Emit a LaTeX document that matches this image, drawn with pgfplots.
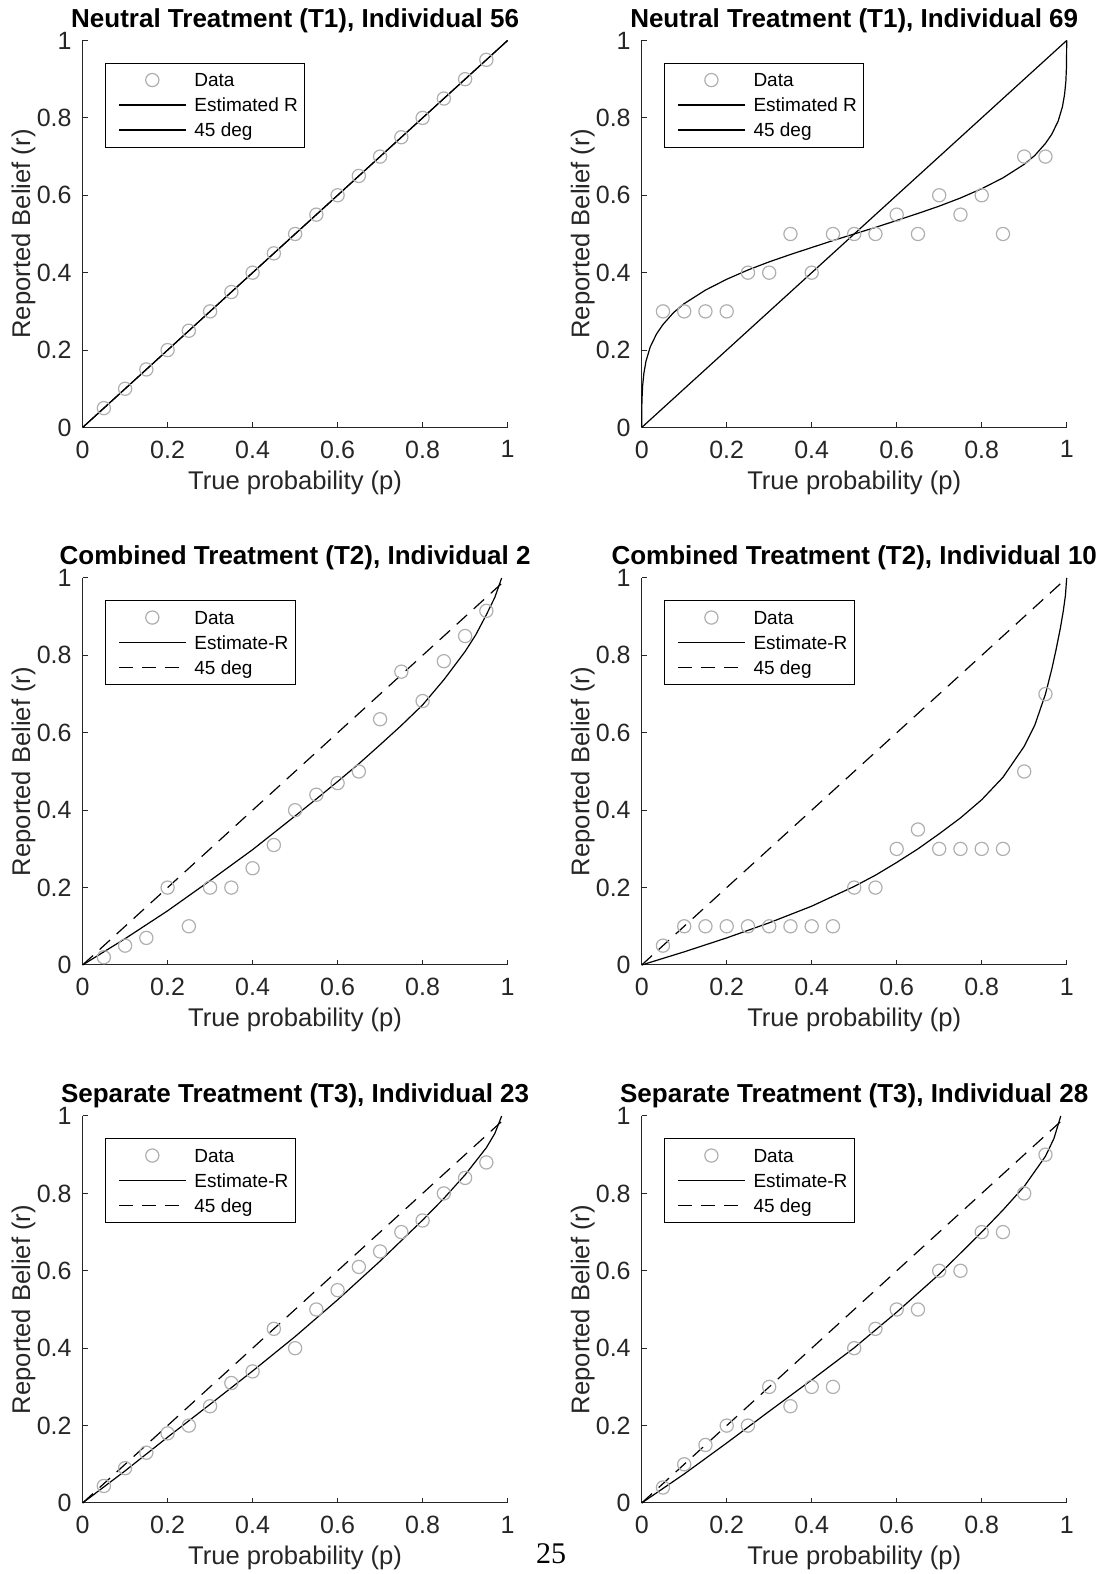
\documentclass[border=0pt]{standalone}
\usepackage{fontspec}
\setmainfont{Liberation Sans}
\newfontfamily\pagefont{Liberation Serif}
\usepackage{pgfplots}
\pgfplotsset{compat=1.18}

\definecolor{axgray}{RGB}{38,38,38}
\definecolor{ptgray}{RGB}{175,175,175}

\pgfplotsset{
  legimg/.style={legend image code/.code={%
      \path (0pt,0pt);
      \draw[mark repeat=2,mark phase=2,##1] plot coordinates {(3.5pt,0pt) (20.25pt,0pt) (37pt,0pt)};}},
  datamk/.style={only marks, mark=o, mark size=3.3pt, draw=ptgray,
    mark options={draw=ptgray, line width=0.6pt}, legimg},
  fitline/.style={black, line width=0.6pt, no marks, legimg},
  diagline/.style={black, line width=0.6pt, no marks, legimg},
  dashline/.style={black, line width=0.6pt, no marks, dash pattern=on 7pt off 4.5pt, legimg},
  belief/.style={
    scale only axis, width=212.5pt, height=193.5pt,
    anchor=south west,
    xmin=0, xmax=1, ymin=0, ymax=1,
    clip=false,
    axis x line*=bottom, axis y line*=left,
    axis line style={-, draw=axgray, line width=0.5pt},
    tick align=inside, major tick length=2.6pt,
    tick style={draw=axgray, line width=0.5pt},
    xtick={0,0.2,0.4,0.6,0.8,1}, ytick={0,0.2,0.4,0.6,0.8,1},
    /pgf/number format/assume math mode=true,
    tick label style={font=\fontsize{12.5}{14}\selectfont, text=axgray},
    xticklabel style={yshift=-3pt},
    yticklabel style={xshift=-2pt},
    label style={font=\fontsize{12.8}{15}\selectfont, text=axgray},
    xlabel={True probability (p)},
    ylabel={Reported Belief (r)},
    xlabel style={at={([yshift=-27.6pt]axis description cs:0.5,0)}, anchor=center},
    ylabel style={at={([xshift=-29.5pt]axis description cs:0,0.5)}, anchor=center},
    every axis title shift=0pt,
    title style={at={([yshift=10pt]axis description cs:0.5,1)}, anchor=center,
      font=\bfseries\fontsize{13}{15}\selectfont, text=black},
    legend cell align=left,
    legend style={at={(0.052,0.943)}, anchor=north west, draw=black, line width=0.5pt,
      fill=white, font=\fontsize{9.5}{11}\selectfont, text=black,
      inner xsep=3pt, inner ysep=2.25pt, column sep=3.5pt, row sep=0pt,
      nodes={inner xsep=0.5pt, inner ysep=0pt, text height=9.7pt, text depth=2.8pt}},
  }
}

\begin{document}
\begin{tikzpicture}
\path[use as bounding box] (0pt,0pt) rectangle (549.5pt,787pt);

% ---- Neutral, 56
\begin{axis}[belief, at={(41.3pt,573.25pt)}, title={Neutral Treatment (T1), Individual 56}]
\addplot[datamk] coordinates {(0.05,0.05) (0.10,0.10) (0.15,0.15) (0.20,0.20) (0.25,0.25)
  (0.30,0.30) (0.35,0.35) (0.40,0.40) (0.45,0.45) (0.50,0.50) (0.55,0.55) (0.60,0.60)
  (0.65,0.65) (0.70,0.70) (0.75,0.75) (0.80,0.80) (0.85,0.85) (0.90,0.90) (0.95,0.95)};
\addplot[fitline] coordinates {(0,0) (1,1)};
\addplot[diagline] coordinates {(0,0) (1,1)};
\legend{Data,Estimated R,45 deg}
\end{axis}

% ---- Neutral, 69
\begin{axis}[belief, at={(320.85pt,573.25pt)}, title={Neutral Treatment (T1), Individual 69}]
\addplot[datamk] coordinates {(0.05,0.30) (0.10,0.30) (0.15,0.30) (0.20,0.30) (0.25,0.40)
  (0.30,0.40) (0.35,0.50) (0.40,0.40) (0.45,0.50) (0.50,0.50) (0.55,0.50) (0.60,0.55)
  (0.65,0.50) (0.70,0.60) (0.75,0.55) (0.80,0.60) (0.85,0.50) (0.90,0.70) (0.95,0.70)};
\addplot[fitline] coordinates {(0,0) (0.0005,0.068) (0.002,0.106) (0.005,0.139) (0.01,0.171)
  (0.02,0.208) (0.035,0.242) (0.05,0.266) (0.075,0.297) (0.10,0.320) (0.15,0.355)
  (0.20,0.383) (0.25,0.407) (0.30,0.428) (0.35,0.447) (0.40,0.465) (0.45,0.483)
  (0.50,0.500) (0.55,0.517) (0.60,0.535) (0.65,0.553) (0.70,0.572) (0.75,0.593)
  (0.80,0.617) (0.85,0.645) (0.90,0.680) (0.925,0.703) (0.95,0.734) (0.965,0.758)
  (0.98,0.792) (0.99,0.829) (0.995,0.861) (0.998,0.894) (0.9995,0.932) (1,1)};
\addplot[diagline] coordinates {(0,0) (1,1)};
\legend{Data,Estimated R,45 deg}
\end{axis}

% ---- Combined, 2
\begin{axis}[belief, at={(41.3pt,304.5pt)}, title={Combined Treatment (T2), Individual 2}]
\addplot[datamk] coordinates {(0.05,0.02) (0.10,0.05) (0.15,0.07) (0.20,0.20) (0.25,0.10)
  (0.30,0.20) (0.35,0.20) (0.40,0.25) (0.45,0.31) (0.50,0.40) (0.55,0.44) (0.60,0.47)
  (0.65,0.50) (0.70,0.635) (0.75,0.758) (0.80,0.682) (0.85,0.785) (0.90,0.85) (0.95,0.915)};
\addplot[fitline] coordinates {(0,0) (0.1,0.068) (0.2,0.140) (0.3,0.218) (0.4,0.298)
  (0.5,0.385) (0.55,0.429) (0.6,0.474) (0.65,0.520) (0.7,0.569) (0.75,0.619) (0.8,0.672)
  (0.85,0.737) (0.9,0.810) (0.925,0.853) (0.95,0.905) (0.97,0.950) (0.986,1)};
\addplot[dashline] coordinates {(0,0) (1,1)};
\legend{Data,Estimate-R,45 deg}
\end{axis}

% ---- Combined, 10
\begin{axis}[belief, at={(320.85pt,304.5pt)}, title={Combined Treatment (T2), Individual 10}]
\addplot[datamk] coordinates {(0.05,0.05) (0.10,0.10) (0.15,0.10) (0.20,0.10) (0.25,0.10)
  (0.30,0.10) (0.35,0.10) (0.40,0.10) (0.45,0.10) (0.50,0.20) (0.55,0.20) (0.60,0.30)
  (0.65,0.35) (0.70,0.30) (0.75,0.30) (0.80,0.30) (0.85,0.30) (0.90,0.50) (0.95,0.70)};
\addplot[fitline] coordinates {(0,0) (0.1,0.034) (0.2,0.070) (0.3,0.109) (0.4,0.152)
  (0.5,0.203) (0.55,0.232) (0.6,0.265) (0.65,0.300) (0.7,0.339) (0.75,0.380) (0.8,0.427)
  (0.85,0.485) (0.9,0.565) (0.925,0.620) (0.95,0.700) (0.965,0.765) (0.975,0.815)
  (0.985,0.870) (0.992,0.915) (0.997,0.955) (1,1)};
\addplot[dashline] coordinates {(0,0) (1,1)};
\legend{Data,Estimate-R,45 deg}
\end{axis}

% ---- Separate, 23
\begin{axis}[belief, at={(41.3pt,35.5pt)}, title={Separate Treatment (T3), Individual 23}]
\addplot[datamk] coordinates {(0.05,0.044) (0.10,0.09) (0.15,0.13) (0.20,0.18) (0.25,0.20)
  (0.30,0.25) (0.35,0.31) (0.40,0.34) (0.45,0.45) (0.50,0.40) (0.55,0.50) (0.60,0.55)
  (0.65,0.61) (0.70,0.65) (0.75,0.70) (0.80,0.73) (0.85,0.80) (0.90,0.84) (0.95,0.88)};
\addplot[fitline] coordinates {(0,0) (0.1,0.083) (0.2,0.170) (0.3,0.255) (0.4,0.341)
  (0.5,0.430) (0.6,0.525) (0.7,0.625) (0.8,0.731) (0.85,0.787) (0.9,0.848) (0.95,0.918)
  (0.97,0.955) (0.986,1)};
\addplot[dashline] coordinates {(0,0) (1,1)};
\legend{Data,Estimate-R,45 deg}
\end{axis}

% ---- Separate, 28
\begin{axis}[belief, at={(320.85pt,35.5pt)}, title={Separate Treatment (T3), Individual 28}]
\addplot[datamk] coordinates {(0.05,0.04) (0.10,0.10) (0.15,0.15) (0.20,0.20) (0.25,0.20)
  (0.30,0.30) (0.35,0.25) (0.40,0.30) (0.45,0.30) (0.50,0.40) (0.55,0.45) (0.60,0.50)
  (0.65,0.50) (0.70,0.60) (0.75,0.60) (0.80,0.70) (0.85,0.70) (0.90,0.80) (0.95,0.90)};
\addplot[fitline] coordinates {(0,0) (0.1,0.075) (0.2,0.155) (0.3,0.237) (0.4,0.318)
  (0.5,0.401) (0.6,0.493) (0.7,0.591) (0.8,0.700) (0.85,0.757) (0.9,0.818) (0.95,0.896)
  (0.97,0.942) (0.986,1)};
\addplot[dashline] coordinates {(0,0) (1,1)};
\legend{Data,Estimate-R,45 deg}
\end{axis}

\node[font=\pagefont\fontsize{15}{18}\selectfont, anchor=base] at (275.5pt,5.2pt) {25};
\end{tikzpicture}
\end{document}
